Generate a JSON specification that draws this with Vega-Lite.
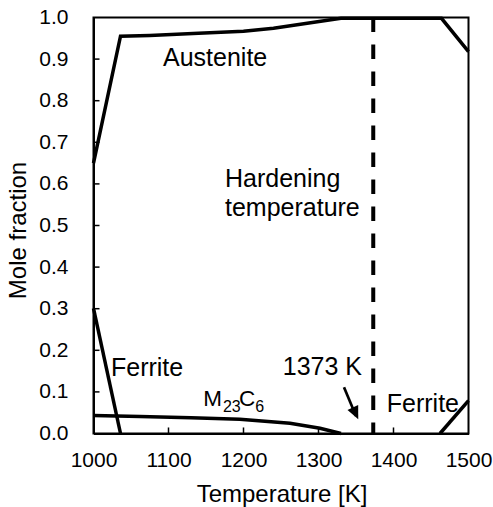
{
  "$schema": "https://vega.github.io/schema/vega-lite/v6.json",
  "autosize": {"type": "none"},
  "padding": {"left": 93.5, "top": 17.5, "right": 24.5, "bottom": 73.5},
  "width": 375,
  "height": 416,
  "background": "white",
  "config": {
    "view": {"stroke": "black", "strokeWidth": 2},
    "font": "Liberation Sans",
    "axis": {
      "grid": false,
      "zindex": 1,
      "domainColor": "black",
      "domainWidth": 2,
      "ticks": false,
      "labelFlush": false,
      "labelOverlap": false,
      "labelColor": "black",
      "labelFont": "Liberation Sans",
      "labelFontSize": 21,
      "titleColor": "black",
      "titleFont": "Liberation Sans",
      "titleFontSize": 24,
      "titleFontWeight": "normal"
    }
  },
  "datasets": {
    "curves": [
      {"series": "Austenite", "i": 0, "T": 1000, "f": 0.65},
      {"series": "Austenite", "i": 1, "T": 1036, "f": 0.955},
      {"series": "Austenite", "i": 2, "T": 1075, "f": 0.957},
      {"series": "Austenite", "i": 3, "T": 1140, "f": 0.962},
      {"series": "Austenite", "i": 4, "T": 1200, "f": 0.967},
      {"series": "Austenite", "i": 5, "T": 1240, "f": 0.974},
      {"series": "Austenite", "i": 6, "T": 1285, "f": 0.986},
      {"series": "Austenite", "i": 7, "T": 1330, "f": 0.998},
      {"series": "Austenite", "i": 8, "T": 1464, "f": 0.998},
      {"series": "Austenite", "i": 9, "T": 1500, "f": 0.918},
      {"series": "Ferrite low", "i": 0, "T": 1000, "f": 0.301},
      {"series": "Ferrite low", "i": 1, "T": 1036, "f": 0.0},
      {"series": "Ferrite high", "i": 0, "T": 1462, "f": 0.0},
      {"series": "Ferrite high", "i": 1, "T": 1500, "f": 0.079},
      {"series": "M23C6", "i": 0, "T": 1000, "f": 0.043},
      {"series": "M23C6", "i": 1, "T": 1062, "f": 0.041},
      {"series": "M23C6", "i": 2, "T": 1130, "f": 0.038},
      {"series": "M23C6", "i": 3, "T": 1195, "f": 0.034},
      {"series": "M23C6", "i": 4, "T": 1262, "f": 0.0245},
      {"series": "M23C6", "i": 5, "T": 1302, "f": 0.0125},
      {"series": "M23C6", "i": 6, "T": 1330, "f": 0.0}
    ],
    "hardening": [
      {"i": 0, "T": 1373, "f": 1.0},
      {"i": 1, "T": 1373, "f": 0.0}
    ],
    "arrow": [
      {"i": 0, "T": 1334, "f": 0.111},
      {"i": 1, "T": 1350, "f": 0.042}
    ],
    "arrowhead": [
      {"T": 1353, "f": 0.034}
    ],
    "xticks": [
      {"T": 1100}, {"T": 1200}, {"T": 1300}, {"T": 1400}
    ],
    "yticks": [
      {"f": 0.1}, {"f": 0.2}, {"f": 0.3}, {"f": 0.4}, {"f": 0.5},
      {"f": 0.6}, {"f": 0.7}, {"f": 0.8}, {"f": 0.9}
    ],
    "labels": [
      {"label": "Austenite", "T": 1092.7, "f": 0.883},
      {"label": "Hardening", "T": 1175.3, "f": 0.5925},
      {"label": "temperature", "T": 1175.3, "f": 0.524},
      {"label": "Ferrite", "T": 1023.3, "f": 0.138},
      {"label": "Ferrite", "T": 1391, "f": 0.0524},
      {"label": "1373 K", "T": 1252.4, "f": 0.1406}
    ],
    "formula": [
      {"label": "M", "T": 1146.4, "f": 0.0661},
      {"label": "C", "T": 1194, "f": 0.0661}
    ],
    "subscripts": [
      {"label": "23", "T": 1172.5, "f": 0.0524},
      {"label": "6", "T": 1215.8, "f": 0.0524}
    ]
  },
  "layer": [
    {
      "data": {"name": "curves"},
      "mark": {"type": "line", "color": "black", "strokeWidth": 3.5, "strokeJoin": "miter", "clip": false},
      "encoding": {
        "x": {
          "field": "T", "type": "quantitative",
          "scale": {"domain": [1000, 1500], "nice": false, "zero": false},
          "axis": {
            "values": [1000, 1100, 1200, 1300, 1400, 1500],
            "format": "d",
            "labelPadding": 16.3,
            "title": "Temperature [K]",
            "titleX": 188,
            "titleY": 68,
            "titleBaseline": "alphabetic",
            "titleAlign": "center"
          }
        },
        "y": {
          "field": "f", "type": "quantitative",
          "scale": {"domain": [0, 1], "nice": false},
          "axis": {
            "values": [0, 0.1, 0.2, 0.3, 0.4, 0.5, 0.6, 0.7, 0.8, 0.9, 1.0],
            "format": ".1f",
            "labelPadding": 25.5,
            "title": "Mole fraction",
            "titleX": -68.5,
            "titleY": 212.5,
            "titleAngle": -90,
            "titleBaseline": "alphabetic",
            "titleAlign": "center"
          }
        },
        "detail": {"field": "series"},
        "order": {"field": "i", "type": "quantitative"}
      }
    },
    {
      "data": {"name": "xticks"},
      "mark": {"type": "rule", "color": "black", "strokeWidth": 1.5},
      "encoding": {
        "x": {"field": "T", "type": "quantitative"},
        "y": {"datum": 0},
        "y2": {"datum": 0.0145}
      }
    },
    {
      "data": {"name": "yticks"},
      "mark": {"type": "rule", "color": "black", "strokeWidth": 1.5},
      "encoding": {
        "y": {"field": "f", "type": "quantitative"},
        "x": {"datum": 1000},
        "x2": {"datum": 1008}
      }
    },
    {
      "data": {"name": "hardening"},
      "mark": {"type": "line", "color": "black", "strokeWidth": 4, "strokeDash": [14.5, 12.5]},
      "encoding": {
        "x": {"field": "T", "type": "quantitative"},
        "y": {"field": "f", "type": "quantitative"},
        "order": {"field": "i", "type": "quantitative"}
      }
    },
    {
      "data": {"name": "arrow"},
      "mark": {"type": "line", "color": "black", "strokeWidth": 2.7},
      "encoding": {
        "x": {"field": "T", "type": "quantitative"},
        "y": {"field": "f", "type": "quantitative"},
        "order": {"field": "i", "type": "quantitative"}
      }
    },
    {
      "data": {"name": "arrowhead"},
      "mark": {"type": "point", "shape": "M0,0L-0.45,-1L0.45,-1Z", "filled": true, "color": "black", "opacity": 1, "size": 676, "angle": 335.4},
      "encoding": {
        "x": {"field": "T", "type": "quantitative"},
        "y": {"field": "f", "type": "quantitative"}
      }
    },
    {
      "data": {"name": "labels"},
      "mark": {"type": "text", "align": "left", "baseline": "alphabetic", "fontSize": 25, "font": "Liberation Sans", "color": "black"},
      "encoding": {
        "x": {"field": "T", "type": "quantitative"},
        "y": {"field": "f", "type": "quantitative"},
        "text": {"field": "label"}
      }
    },
    {
      "data": {"name": "formula"},
      "mark": {"type": "text", "align": "left", "baseline": "alphabetic", "fontSize": 22.5, "font": "Liberation Sans", "color": "black"},
      "encoding": {
        "x": {"field": "T", "type": "quantitative"},
        "y": {"field": "f", "type": "quantitative"},
        "text": {"field": "label"}
      }
    },
    {
      "data": {"name": "subscripts"},
      "mark": {"type": "text", "align": "left", "baseline": "alphabetic", "fontSize": 16, "font": "Liberation Sans", "color": "black"},
      "encoding": {
        "x": {"field": "T", "type": "quantitative"},
        "y": {"field": "f", "type": "quantitative"},
        "text": {"field": "label"}
      }
    }
  ]
}
